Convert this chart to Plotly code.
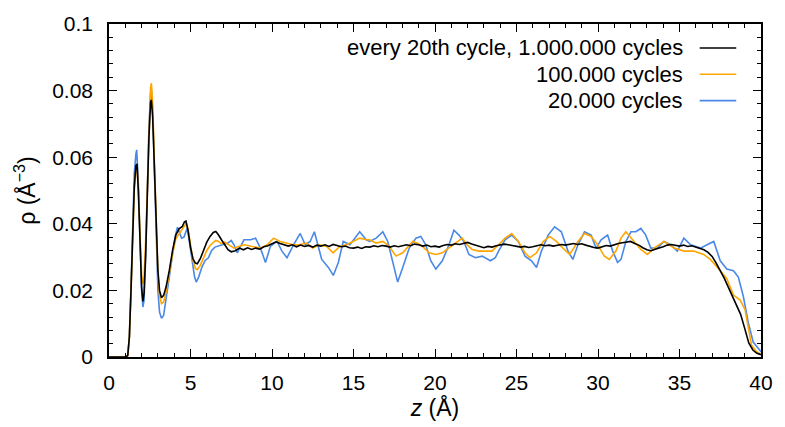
import plotly.graph_objects as go

# ---------------- data ----------------
z_black = [0, 1.05, 1.15, 1.25, 1.35, 1.45, 1.55, 1.65, 1.72, 1.8, 1.9, 2.0, 2.08, 2.15, 2.25, 2.35,
           2.45, 2.55, 2.6, 2.68, 2.8, 2.9, 3.0, 3.1, 3.22, 3.35, 3.5, 3.7, 3.9, 4.1, 4.3, 4.5, 4.62,
           4.72, 4.85, 5.0, 5.15, 5.3, 5.42, 5.6, 5.8, 6.0, 6.2, 6.4, 6.55, 6.7, 6.9, 7.1, 7.3,
           7.5, 7.75, 8.0, 8.25, 8.5, 8.75, 9.0, 9.25, 9.5, 9.75, 10.0, 10.25, 10.5, 10.75, 11.0,
           11.25, 11.5, 11.75, 12.0, 12.25, 12.5, 12.75, 13.0, 13.25, 13.5, 13.75, 14.0, 14.25,
           14.5, 14.75, 15.0, 15.25, 15.5, 15.75, 16.0, 16.25, 16.5, 16.75, 17.0, 17.25, 17.5,
           17.75, 18.0, 18.25, 18.5, 18.75, 19.0, 19.25, 19.5, 19.75, 20.0, 20.25, 20.5, 20.75,
           21.0, 21.25, 21.5, 21.75, 22.0, 22.25, 22.5, 22.75, 23.0, 23.25, 23.5, 23.75, 24.0,
           24.25, 24.5, 24.75, 25.0, 25.25, 25.5, 25.75, 26.0, 26.25, 26.5, 26.75, 27.0, 27.25,
           27.5, 27.75, 28.0, 28.25, 28.5, 28.75, 29.0, 29.25, 29.5, 29.75, 30.0, 30.25, 30.5,
           30.75, 31.0, 31.25, 31.5, 31.75, 32.0, 32.25, 32.5, 32.75, 33.0, 33.25, 33.5, 33.75,
           34.0, 34.25, 34.5, 34.75, 35.0, 35.25, 35.5, 35.75, 36.0, 36.25, 36.5, 36.75, 37.0,
           37.25, 37.5, 37.75, 38.0, 38.25, 38.5, 38.75, 39.0, 39.25, 39.5, 39.75, 40.0]
rho_black = [0, 0, 0.0005, 0.006, 0.02, 0.037, 0.051, 0.0575, 0.058, 0.050, 0.034, 0.021, 0.0167,
             0.019, 0.031, 0.049, 0.066, 0.0765, 0.0772, 0.072, 0.053, 0.037, 0.026, 0.020, 0.0178,
             0.0185, 0.021, 0.026, 0.032, 0.0366, 0.0385, 0.0392, 0.0405, 0.0408, 0.038, 0.033,
             0.0295, 0.0282, 0.028, 0.0295, 0.032, 0.0345, 0.0362, 0.0374, 0.0377, 0.0368, 0.0352,
             0.0335, 0.0322,
             0.0316, 0.0319, 0.0327, 0.0322, 0.0328, 0.0323, 0.0327, 0.0324, 0.0331, 0.0334, 0.0340,
             0.0346, 0.0341, 0.0336, 0.0333, 0.0337, 0.0331, 0.0336, 0.0332, 0.0335, 0.0330, 0.0336,
             0.0333, 0.0337, 0.0332, 0.0338, 0.0335, 0.0331, 0.0333, 0.0328, 0.0327, 0.0330, 0.0326,
             0.0331, 0.0330, 0.0334, 0.0331, 0.0335, 0.0333, 0.0330, 0.0334, 0.0331, 0.0334, 0.0337,
             0.0334, 0.0339, 0.0337, 0.0333, 0.0336, 0.0331, 0.0333, 0.0330, 0.0335, 0.0338, 0.0336,
             0.0340, 0.0338, 0.0342, 0.0344, 0.0339, 0.0335, 0.0331, 0.0328, 0.0332, 0.0330, 0.0334,
             0.0336, 0.0339, 0.0337, 0.0335, 0.0334, 0.0330, 0.0332, 0.0329, 0.0331, 0.0335, 0.0337,
             0.0334, 0.0336, 0.0333, 0.0335, 0.0338, 0.0336, 0.0339, 0.0341, 0.0338, 0.0340, 0.0336,
             0.0332, 0.0329, 0.0327, 0.0331, 0.0335, 0.0333, 0.0338, 0.0341, 0.0343, 0.0345, 0.0347,
             0.0341, 0.0336, 0.0328, 0.0322, 0.0319, 0.0324, 0.0327, 0.0331, 0.0336, 0.0338, 0.0335,
             0.0333, 0.0336, 0.0332, 0.0334, 0.0330, 0.0328, 0.0322, 0.0314, 0.0302, 0.0282, 0.0260,
             0.0236, 0.0209, 0.0181, 0.0158, 0.0128, 0.0086, 0.0042, 0.0021, 0.0011, 0.0007]

z_orange = [0, 1.05, 1.15, 1.25, 1.35, 1.45, 1.55, 1.65, 1.72, 1.8, 1.9, 2.0, 2.08, 2.15, 2.25, 2.35,
            2.45, 2.55, 2.6, 2.68, 2.8, 2.9, 3.0, 3.1, 3.22, 3.35, 3.5, 3.7, 3.9, 4.1, 4.3, 4.5, 4.62,
            4.75, 4.85, 5.0, 5.15, 5.3, 5.42, 5.6, 5.8, 6.0, 6.2, 6.4, 6.55, 6.7, 6.9, 7.1, 7.3, 7.5,
            7.67, 8.28, 8.89, 9.29, 9.7, 10.1, 10.5, 10.9, 11.3, 11.7, 12.1, 12.5, 12.9, 13.35,
            13.75, 14.16, 14.57, 14.97, 15.38, 15.78, 15.99, 16.39, 16.8, 17.2, 17.61, 18.02, 18.42,
            18.63, 18.93, 19.23, 19.64, 20.05, 20.45, 20.86, 21.26, 21.67, 21.97, 22.28, 22.68,
            23.09, 23.49, 23.9, 24.3, 24.71, 25.11, 25.52, 25.82, 26.23, 26.64, 27.04, 27.45, 27.85,
            28.26, 28.77, 29.17, 29.58, 29.98, 30.39, 30.69, 31.1, 31.41, 31.71, 32.22, 32.63, 33.03,
            33.44, 34.05, 34.66, 35.27, 35.88, 36.48, 36.89, 37.5, 37.9, 38.31, 38.72, 39.02, 39.22,
            39.42, 39.73, 40.0]
rho_orange = [0, 0, 0.0005, 0.006, 0.02, 0.036, 0.050, 0.056, 0.057, 0.050, 0.036, 0.025, 0.022,
              0.024, 0.035, 0.053, 0.071, 0.081, 0.0822, 0.076, 0.056, 0.038, 0.025, 0.0185, 0.016,
              0.0165, 0.0195, 0.025, 0.031, 0.0355, 0.037, 0.0385, 0.039, 0.0402, 0.0385, 0.033,
              0.029, 0.0266, 0.0262, 0.0275, 0.030, 0.032, 0.0335, 0.0345, 0.0350, 0.0348, 0.034,
              0.0345, 0.0338, 0.0333,
              0.0327, 0.0337, 0.0332, 0.0327, 0.0337, 0.0357, 0.0347, 0.0342, 0.0337, 0.0337, 0.0342,
              0.0327, 0.0337, 0.0332, 0.0313, 0.0332, 0.0337, 0.0347, 0.0357, 0.0352, 0.0352, 0.0342,
              0.0347, 0.0332, 0.0303, 0.0313, 0.0337, 0.0347, 0.0342, 0.0332, 0.0313, 0.0308, 0.0313,
              0.0327, 0.0342, 0.0357, 0.0337, 0.0323, 0.0318, 0.0318, 0.0318, 0.0337, 0.0357, 0.0371,
              0.0347, 0.0313, 0.0298, 0.0313, 0.0347, 0.0362, 0.0347, 0.0327, 0.0308, 0.0347, 0.0371,
              0.0362, 0.0337, 0.0303, 0.0293, 0.0318, 0.0357, 0.0376, 0.0347, 0.0323, 0.0308, 0.0327,
              0.0347, 0.0327, 0.0318, 0.0318, 0.0308, 0.0293, 0.0259, 0.0235, 0.0186, 0.0171, 0.0142,
              0.0084, 0.0035, 0.0016, 0.0008]

z_blue = [0, 1.05, 1.15, 1.25, 1.35, 1.45, 1.55, 1.65, 1.7, 1.8, 1.9, 2.0, 2.08, 2.15, 2.25, 2.35,
          2.45, 2.55, 2.6, 2.68, 2.8, 2.9, 3.0, 3.1, 3.22, 3.35, 3.5, 3.7, 3.9, 4.05, 4.2, 4.3, 4.45,
          4.6, 4.8, 4.95, 5.1, 5.25, 5.35, 5.5, 5.7, 5.9, 6.1, 6.3, 6.5, 6.8, 7.0, 7.3, 7.5,
          7.67, 7.87, 8.28, 8.69, 8.99, 9.29, 9.6, 9.9, 10.31, 10.61, 10.92, 11.32, 11.73, 12.04,
          12.34, 12.6, 12.85, 13.05, 13.46, 13.76, 14.07, 14.37, 14.78, 15.38, 15.78, 15.99, 16.39,
          16.8, 17.1, 17.41, 17.71, 18.02, 18.42, 18.83, 19.13, 19.43, 19.74, 20.05, 20.45, 20.86,
          21.16, 21.47, 21.77, 22.08, 22.48, 22.89, 23.4, 23.7, 23.9, 24.3, 24.71, 25.11, 25.52,
          25.92, 26.23, 26.53, 26.94, 27.34, 27.75, 28.16, 28.46, 28.77, 29.17, 29.58, 29.88,
          30.19, 30.59, 30.9, 31.2, 31.41, 31.71, 32.02, 32.32, 32.63, 32.93, 33.24, 33.64, 34.05,
          34.46, 34.86, 35.27, 35.68, 36.29, 36.69, 37.1, 37.3, 37.5, 37.9, 38.31, 38.61, 38.92,
          39.22, 39.52, 39.93, 40.0]
rho_blue = [0, 0, 0.0005, 0.006, 0.021, 0.039, 0.055, 0.061, 0.0622, 0.052, 0.034, 0.020, 0.0150,
            0.017, 0.030, 0.050, 0.069, 0.079, 0.0805, 0.074, 0.052, 0.033, 0.020, 0.0135, 0.0116,
            0.0125, 0.017, 0.024, 0.031, 0.036, 0.039, 0.0375, 0.0357, 0.036, 0.0387, 0.034,
            0.0289, 0.024, 0.0225, 0.024, 0.027, 0.029, 0.0298, 0.032, 0.033, 0.0335, 0.0338,
            0.0342, 0.035,
            0.0337, 0.0313, 0.0352, 0.0352, 0.0357, 0.0327, 0.0284, 0.0332, 0.0347, 0.0318, 0.0298,
            0.0337, 0.0371, 0.0337, 0.0347, 0.0376, 0.0332, 0.0293, 0.0269, 0.0245, 0.0284, 0.0347,
            0.0337, 0.0376, 0.0352, 0.0347, 0.0357, 0.0376, 0.0347, 0.0289, 0.0225, 0.0269, 0.0327,
            0.0357, 0.0362, 0.0337, 0.0289, 0.0264, 0.0289, 0.0337, 0.0381, 0.0366, 0.0347, 0.0308,
            0.0298, 0.0303, 0.0289, 0.0298, 0.0318, 0.0352, 0.0366, 0.0347, 0.0303, 0.0289, 0.0269,
            0.0318, 0.0366, 0.0391, 0.0376, 0.0318, 0.0293, 0.0337, 0.0376, 0.0366, 0.0327, 0.0352,
            0.0366, 0.0318, 0.0284, 0.0293, 0.0347, 0.0376, 0.0376, 0.0386, 0.0366, 0.0327, 0.0327,
            0.0347, 0.0337, 0.0318, 0.0357, 0.0337, 0.0327, 0.0337, 0.0347, 0.0318, 0.0289, 0.0264,
            0.0259, 0.0240, 0.0181, 0.0103, 0.0045, 0.0020, 0.0015]

series_names = ["every 20th cycle, 1.000.000 cycles", "100.000 cycles", "20.000 cycles"]
series_colors = ["#000000", "#FFA500", "#4A88E8"]

x_ticks = [0, 5, 10, 15, 20, 25, 30, 35, 40]
y_ticks = [0, 0.02, 0.04, 0.06, 0.08, 0.1]
y_tick_text = ["0", "0.02", "0.04", "0.06", "0.08", "0.1"]

# ---------------- figure ----------------
FONT = "Liberation Sans, Arial, sans-serif"
fig = go.Figure()

# draw blue first, black on top
data = [(z_blue, rho_blue, 2), (z_orange, rho_orange, 1), (z_black, rho_black, 0)]
for zs, rs, i in data:
    fig.add_trace(go.Scatter(x=zs, y=rs, mode="lines", name=series_names[i],
                             line=dict(color=series_colors[i], width=1.6),
                             showlegend=False))

# gnuplot-style legend: right-aligned text, sample line to the right
legend_y = [0.928, 0.849, 0.770]
for i in range(3):
    fig.add_annotation(xref="paper", yref="paper", x=0.883, y=legend_y[i],
                       text=series_names[i], showarrow=False, xanchor="right",
                       yanchor="middle", font=dict(family=FONT, size=22, color="#000"))
    fig.add_shape(type="line", xref="paper", yref="paper", x0=0.906, x1=0.962,
                  y0=legend_y[i], y1=legend_y[i],
                  line=dict(color=series_colors[i], width=1.6))

axis_common = dict(showline=True, linecolor="black", linewidth=1.5, mirror="allticks",
                   ticks="inside", ticklen=8, tickwidth=1, tickcolor="black",
                   showgrid=False, zeroline=False,
                   tickfont=dict(family=FONT, size=21, color="black"))

fig.update_xaxes(range=[0, 40], tickvals=x_ticks,
                 minor=dict(ticks="inside", ticklen=4, dtick=1, tickcolor="black", showgrid=False),
                 title=dict(text="<i>z</i> (Å)", font=dict(family=FONT, size=23, color="black"),
                            standoff=5),
                 ticklabelstandoff=6, **axis_common)
fig.update_yaxes(range=[0, 0.1], tickvals=y_ticks, ticktext=y_tick_text,
                 minor=dict(ticks="inside", ticklen=4, dtick=0.004, tickcolor="black", showgrid=False),
                 title=dict(text="ρ (Å<sup>−3</sup>)", font=dict(family=FONT, size=23, color="black"),
                            standoff=10),
                 ticklabelstandoff=10, **axis_common)

fig.update_layout(width=785, height=427, margin=dict(l=109, r=18, t=21, b=65),
                  paper_bgcolor="white", plot_bgcolor="white",
                  font=dict(family=FONT, size=20, color="black"))

fig.write_html("out.html")
